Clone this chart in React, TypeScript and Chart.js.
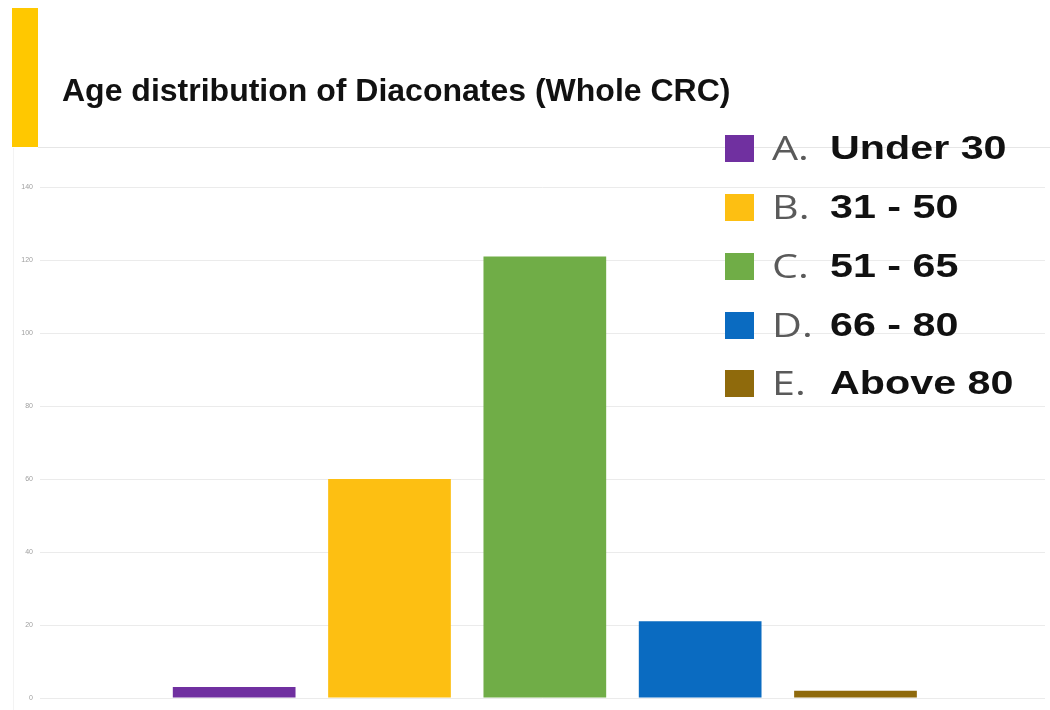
import React, { useEffect, useRef } from "react";
import { Chart, registerables } from "chart.js";

Chart.register(...registerables);

const TITLE = "Age distribution of Diaconates (Whole CRC)";
const letters = ["A.", "B.", "C.", "D.", "E."];
const groups = ["Under 30", "31 - 50", "51 - 65", "66 - 80", "Above 80"];
const counts = [3, 60, 121, 21, 2];
const barColors = ["#7030A0", "#FDBF12", "#70AD47", "#0A6BC1", "#8F6A0C"];
const yTickValues = [0, 20, 40, 60, 80, 100, 120, 140];

export default function App() {
  const ref = useRef<HTMLCanvasElement | null>(null);

  useEffect(() => {
    if (!ref.current) return;
    const chart = new Chart(ref.current, {
      type: "bar",
      data: {
        datasets: [
          {
            label: TITLE,
            data: counts.map((v, i) => ({ x: i + 1, y: v })),
            backgroundColor: barColors,
            borderWidth: 0,
            barPercentage: 0.79,
            categoryPercentage: 1,
          },
        ],
      },
      options: {
        animation: false,
        responsive: false,
        maintainAspectRatio: false,
        layout: { padding: { top: 147, bottom: 12, right: 5, left: 0 } },
        plugins: { legend: { display: false }, tooltip: { enabled: false }, title: { display: false } },
        scales: {
          x: {
            type: "linear",
            display: false,
            offset: false,
            min: -0.25,
            max: 6.22,
          },
          y: {
            min: 0,
            max: 151,
            afterFit: (s: any) => {
              s.width = 40;
            },
            afterBuildTicks: (s: any) => {
              s.ticks = yTickValues.map((v) => ({ value: v }));
            },
            border: { display: false },
            grid: { color: "#ebebeb", lineWidth: 1, drawTicks: false },
            ticks: {
              padding: 7,
              color: "#a0a0a0",
              font: { size: 7, family: "Liberation Sans" },
            },
          },
        },
      },
    });
    return () => chart.destroy();
  }, []);

  const rowCenters = [148, 207, 266, 325, 383];

  return (
    <div style={{ position: "absolute", left: 0, top: 0, width: 1050, height: 710, background: "#fff", overflow: "hidden" }}>
      <canvas ref={ref} width={1050} height={710} style={{ position: "absolute", left: 0, top: 0 }} />
      <div style={{ position: "absolute", left: 12, top: 8, width: 26, height: 139, background: "#FFC800" }} />
      <div style={{ position: "absolute", left: 38, top: 147, width: 1012, height: 1, background: "#e6e6e6" }} />
      <div style={{ position: "absolute", left: 13, top: 148, width: 1, height: 562, background: "#f3f3f3" }} />
      <div
        style={{
          position: "absolute",
          left: 62,
          top: 72,
          fontFamily: "'Liberation Sans', Arial, sans-serif",
          fontWeight: 700,
          fontSize: 32,
          lineHeight: "36px",
          color: "#111",
          whiteSpace: "nowrap",
        }}
      >
        {TITLE}
      </div>
      {groups.map((g, i) => (
        <div key={g} style={{ position: "absolute", left: 725, top: rowCenters[i] - 20, height: 40, width: 320 }}>
          <div style={{ position: "absolute", left: 0, top: 7, width: 29, height: 27, background: barColors[i] }} />
          <div
            style={{
              position: "absolute",
              left: 47,
              top: 0,
              fontFamily: "'Open Sans', sans-serif",
              fontSize: 33,
              lineHeight: "40px",
              color: "#5a5a5a",
              whiteSpace: "nowrap",
              transform: "scaleX(1.25)",
              transformOrigin: "left center",
            }}
          >
            {letters[i]}
          </div>
          <div
            style={{
              position: "absolute",
              left: 105,
              top: 0,
              fontFamily: "'Liberation Sans', Arial, sans-serif",
              fontWeight: 700,
              fontSize: 33,
              lineHeight: "40px",
              color: "#111",
              whiteSpace: "nowrap",
              transform: "scaleX(1.25)",
              transformOrigin: "left center",
            }}
          >
            {g}
          </div>
        </div>
      ))}
    </div>
  );
}
